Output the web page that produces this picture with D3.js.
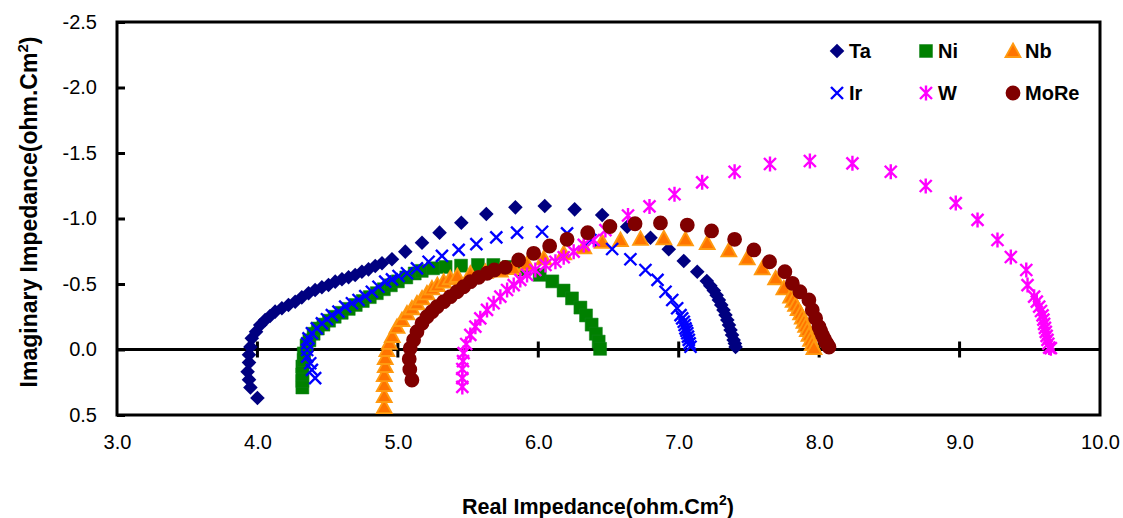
<!DOCTYPE html>
<html>
<head>
<meta charset="utf-8">
<script src="https://cdn.jsdelivr.net/npm/d3@7"></script>
<style>
  html, body { margin: 0; padding: 0; background: #fff; }
  svg { display: block; font-family: Arial, "Liberation Sans", sans-serif; }
</style>
</head>
<body>
<svg id="chart" width="1123" height="518"></svg>
<script>
// Nyquist data: [real, imaginary] impedance (ohm.cm^2) per electrode material
const taData = [
  [4.00,0.37],[3.95,0.29],[3.94,0.23],[3.93,0.17],[3.94,0.10],[3.94,0.04],[3.95,-0.02],
  [3.96,-0.085],[3.99,-0.136],[4.02,-0.187],[4.055,-0.225],[4.09,-0.256],[4.126,-0.289],
  [4.174,-0.315],[4.221,-0.34],[4.269,-0.365],[4.316,-0.398],[4.364,-0.429],[4.411,-0.454],
  [4.459,-0.475],[4.506,-0.492],[4.554,-0.518],[4.602,-0.536],[4.649,-0.551],[4.696,-0.569],
  [4.744,-0.594],[4.791,-0.612],[4.839,-0.637],[4.887,-0.658],[4.958,-0.689],[5.053,-0.747],
  [5.172,-0.815],[5.297,-0.892],[5.452,-0.968],[5.630,-1.034],[5.837,-1.085],[6.046,-1.095],
  [6.259,-1.070],[6.455,-1.027],[6.633,-0.937],[6.799,-0.853],[6.929,-0.765],[7.036,-0.676],
  [7.132,-0.594],[7.200,-0.523],[7.225,-0.487],[7.250,-0.450],[7.270,-0.414],[7.286,-0.378],
  [7.303,-0.340],[7.319,-0.302],[7.333,-0.263],[7.346,-0.225],[7.358,-0.187],[7.369,-0.149],
  [7.380,-0.111],[7.391,-0.073],[7.400,-0.045],[7.405,-0.020]
];
const niData = [
  [4.32,0.29],[4.32,0.24],[4.32,0.19],[4.32,0.13],[4.33,0.08],[4.33,0.03],[4.35,-0.03],
  [4.37,-0.07],[4.40,-0.12],[4.43,-0.16],[4.47,-0.19],[4.51,-0.22],[4.55,-0.25],[4.60,-0.28],
  [4.65,-0.31],[4.70,-0.34],[4.75,-0.37],[4.80,-0.40],[4.85,-0.43],[4.90,-0.46],[4.95,-0.49],
  [5.00,-0.52],[5.06,-0.55],[5.12,-0.58],[5.17,-0.60],[5.25,-0.62],[5.34,-0.63],[5.45,-0.64],
  [5.57,-0.645],[5.68,-0.645],[5.79,-0.63],[5.90,-0.61],[6.01,-0.57],[6.10,-0.52],[6.18,-0.45],
  [6.24,-0.39],[6.30,-0.32],[6.34,-0.26],[6.38,-0.19],[6.41,-0.12],[6.43,-0.06],[6.44,-0.005]
];
const nbData = [
  [4.903,0.439],[4.903,0.355],[4.903,0.271],[4.903,0.195],[4.910,0.126],[4.910,0.065],
  [4.922,0.004],[4.939,-0.050],[4.960,-0.103],[4.994,-0.172],[5.029,-0.225],[5.065,-0.276],
  [5.100,-0.315],[5.136,-0.353],[5.172,-0.391],[5.207,-0.429],[5.243,-0.467],[5.281,-0.492],
  [5.326,-0.518],[5.373,-0.544],[5.423,-0.561],[5.516,-0.580],[5.623,-0.592],[5.730,-0.603],
  [5.822,-0.622],[5.920,-0.653],[6.039,-0.696],[6.181,-0.734],[6.324,-0.779],[6.455,-0.821],
  [6.585,-0.836],[6.728,-0.844],[6.894,-0.849],[7.048,-0.841],[7.203,-0.813],[7.357,-0.756],
  [7.488,-0.696],[7.595,-0.620],[7.690,-0.544],[7.749,-0.467],[7.797,-0.403],[7.815,-0.372],
  [7.832,-0.340],[7.850,-0.308],[7.868,-0.276],[7.880,-0.244],[7.892,-0.212],[7.904,-0.180],
  [7.916,-0.149],[7.928,-0.111],[7.939,-0.073],[7.951,-0.042],[7.963,-0.011]
];
const irData = [
  [4.411,0.218],[4.388,0.156],[4.376,0.105],[4.354,0.055],[4.354,0.004],[4.354,-0.047],
  [4.364,-0.085],[4.388,-0.124],[4.423,-0.162],[4.459,-0.200],[4.495,-0.231],[4.530,-0.263],
  [4.577,-0.289],[4.625,-0.327],[4.673,-0.353],[4.720,-0.378],[4.768,-0.408],[4.815,-0.441],
  [4.862,-0.479],[4.910,-0.518],[4.958,-0.536],[5.005,-0.561],[5.065,-0.582],[5.136,-0.620],
  [5.219,-0.670],[5.314,-0.714],[5.433,-0.760],[5.559,-0.805],[5.701,-0.856],[5.849,-0.892],
  [6.027,-0.899],[6.205,-0.887],[6.371,-0.836],[6.526,-0.767],[6.656,-0.689],[6.763,-0.607],
  [6.849,-0.531],[6.906,-0.441],[6.954,-0.378],[6.989,-0.315],[7.013,-0.263],[7.025,-0.237],
  [7.036,-0.212],[7.042,-0.187],[7.048,-0.162],[7.055,-0.143],[7.061,-0.124],[7.066,-0.098],
  [7.072,-0.073],[7.078,-0.047],[7.084,-0.021]
];
const wData = [
  [5.459,0.286],[5.459,0.218],[5.459,0.149],[5.464,0.088],[5.468,0.027],[5.487,-0.042],
  [5.516,-0.111],[5.552,-0.174],[5.587,-0.238],[5.635,-0.302],[5.682,-0.353],[5.730,-0.403],
  [5.778,-0.454],[5.825,-0.492],[5.872,-0.531],[5.920,-0.569],[5.979,-0.607],[6.051,-0.645],
  [6.122,-0.670],[6.181,-0.704],[6.252,-0.747],[6.324,-0.798],[6.395,-0.836],[6.478,-0.912],
  [6.639,-1.023],[6.792,-1.092],[6.970,-1.185],[7.167,-1.276],[7.398,-1.357],[7.650,-1.416],
  [7.934,-1.439],[8.237,-1.421],[8.510,-1.357],[8.759,-1.248],[8.973,-1.118],[9.128,-0.989],
  [9.270,-0.836],[9.365,-0.706],[9.475,-0.607],[9.484,-0.492],[9.531,-0.403],[9.550,-0.365],
  [9.567,-0.327],[9.580,-0.294],[9.591,-0.260],[9.597,-0.228],[9.602,-0.195],[9.608,-0.165],
  [9.614,-0.134],[9.620,-0.104],[9.626,-0.073],[9.632,-0.044],[9.638,-0.015],[9.650,-0.010]
];
const moreData = [
  [5.100,0.233],[5.085,0.153],[5.081,0.073],[5.088,-0.009],[5.112,-0.073],[5.136,-0.136],
  [5.172,-0.200],[5.207,-0.250],[5.243,-0.289],[5.279,-0.327],[5.326,-0.365],[5.373,-0.403],
  [5.421,-0.441],[5.468,-0.479],[5.516,-0.518],[5.575,-0.551],[5.635,-0.582],[5.687,-0.607],
  [5.765,-0.627],[5.860,-0.683],[5.967,-0.734],[6.081,-0.790],[6.205,-0.841],[6.352,-0.892],
  [6.510,-0.939],[6.689,-0.960],[6.870,-0.966],[7.061,-0.950],[7.234,-0.905],[7.398,-0.841],
  [7.535,-0.760],[7.647,-0.670],[7.756,-0.594],[7.809,-0.505],[7.863,-0.441],[7.927,-0.378],
  [7.951,-0.302],[7.975,-0.238],[7.999,-0.174],[8.011,-0.142],[8.023,-0.111],[8.035,-0.085],
  [8.046,-0.060],[8.058,-0.040],[8.070,-0.019]
];

const seriesNames = ["Ta", "Ni", "Nb", "Ir", "W", "MoRe"];
const seriesData = [taData, niData, nbData, irData, wData, moreData];

const xTicks = [3, 4, 5, 6, 7, 8, 9, 10];
const yTicks = [-2.5, -2.0, -1.5, -1.0, -0.5, 0.0, 0.5];
const xMinorCross = [4, 5, 6, 7, 8, 9];

const xTitle = "Real Impedance(ohm.Cm";
const yTitle = "Imaginary Impedance(ohm.Cm";

// marker styles for each series
const markerStyle = {
  Ta:   { path: "M0,-7.3L7.3,0L0,7.3L-7.3,0Z", fill: "#000080", stroke: "none", sw: 0 },
  Ni:   { path: "M-6.5,-6.5H6.5V6.5H-6.5Z", fill: "#008000", stroke: "#11801a", sw: 0.5 },
  Nb:   { path: "M0,-7.5L7.5,6L-7.5,6Z", fill: "#FF7400", stroke: "#FF9A10", sw: 1.8 },
  Ir:   { path: "M-6,-6L6,6M-6,6L6,-6", fill: "none", stroke: "#0000FF", sw: 2.4 },
  W:    { path: "M0,-7.5V7.5M-6,-6L6,6M-6,6L6,-6", fill: "none", stroke: "#FF00FF", sw: 2.4 },
  MoRe: { path: "M7.4,0A7.4,7.4 0 1,1 -7.4,0A7.4,7.4 0 1,1 7.4,0Z", fill: "#800000", stroke: "none", sw: 0 }
};

const svg = d3.select("#chart");
const plot = { left: 117, right: 1100, top: 22, bottom: 415 };

const x = d3.scaleLinear().domain([3, 10]).range([plot.left, plot.right]);
const y = d3.scaleLinear().domain([-2.5, 0.5]).range([plot.top, plot.bottom]);
const fmt = d => d.toFixed(1);

// y axis: labels on the left, short ticks pointing into the plot
const yAxis = svg.append("g")
  .attr("transform", `translate(${plot.left},0)`)
  .call(d3.axisLeft(y).tickValues(yTicks).tickFormat(fmt).tickSize(-8).tickPadding(20));
yAxis.select(".domain").remove();
yAxis.selectAll(".tick line").attr("stroke", "#000").attr("stroke-width", 3);
yAxis.selectAll(".tick text").attr("font-size", 20).attr("fill", "#000");

// x axis labels below the frame
const xAxis = svg.append("g")
  .attr("transform", `translate(0,${plot.bottom})`)
  .call(d3.axisBottom(x).tickValues(xTicks).tickFormat(fmt).tickSize(0).tickPadding(20));
xAxis.select(".domain").remove();
xAxis.selectAll(".tick text").attr("font-size", 20).attr("fill", "#000");

// frame
svg.append("rect")
  .attr("x", plot.left).attr("y", plot.top)
  .attr("width", plot.right - plot.left).attr("height", plot.bottom - plot.top)
  .attr("fill", "none").attr("stroke", "#000").attr("stroke-width", 3);

// zero line with cross ticks
svg.append("line")
  .attr("x1", x(3)).attr("x2", x(10)).attr("y1", y(0)).attr("y2", y(0))
  .attr("stroke", "#000").attr("stroke-width", 3);
svg.append("g").selectAll("line").data(xMinorCross).join("line")
  .attr("x1", d => x(d)).attr("x2", d => x(d))
  .attr("y1", y(0) - 8).attr("y2", y(0) + 8)
  .attr("stroke", "#000").attr("stroke-width", 3);

// data markers
const markers = svg.append("g");
seriesNames.forEach((name, i) => {
  const st = markerStyle[name];
  markers.append("g").selectAll("path").data(seriesData[i]).join("path")
    .attr("transform", d => `translate(${x(d[0])},${y(d[1])})`)
    .attr("d", st.path)
    .attr("fill", st.fill)
    .attr("stroke", st.stroke)
    .attr("stroke-width", st.sw);
});

// legend (2 rows x 3 columns)
const legendCols = [837, 926, 1013];
const legendRows = [51, 93];
const legend = svg.append("g");
seriesNames.forEach((name, i) => {
  const cx = legendCols[i % 3], cy = legendRows[Math.floor(i / 3)];
  const st = markerStyle[name];
  legend.append("path")
    .attr("transform", `translate(${cx},${cy})`)
    .attr("d", st.path).attr("fill", st.fill)
    .attr("stroke", st.stroke).attr("stroke-width", st.sw);
  legend.append("text")
    .attr("x", cx + 12).attr("y", cy + 7)
    .attr("font-size", 20).attr("font-weight", "bold").attr("fill", "#000")
    .text(name);
});

// axis titles
const xt = svg.append("text")
  .attr("x", 598).attr("y", 514)
  .attr("text-anchor", "middle").attr("font-size", 21.5).attr("font-weight", "bold");
xt.append("tspan").text(xTitle);
xt.append("tspan").attr("dy", -9).attr("font-size", 14).text("2");
xt.append("tspan").attr("dy", 9).text(")");

const yt = svg.append("text")
  .attr("transform", `translate(37,212) rotate(-90)`)
  .attr("text-anchor", "middle").attr("font-size", 23).attr("font-weight", "bold");
yt.append("tspan").text(yTitle);
yt.append("tspan").attr("dy", -9).attr("font-size", 15).text("2");
yt.append("tspan").attr("dy", 9).text(")");
</script>
</body>
</html>
